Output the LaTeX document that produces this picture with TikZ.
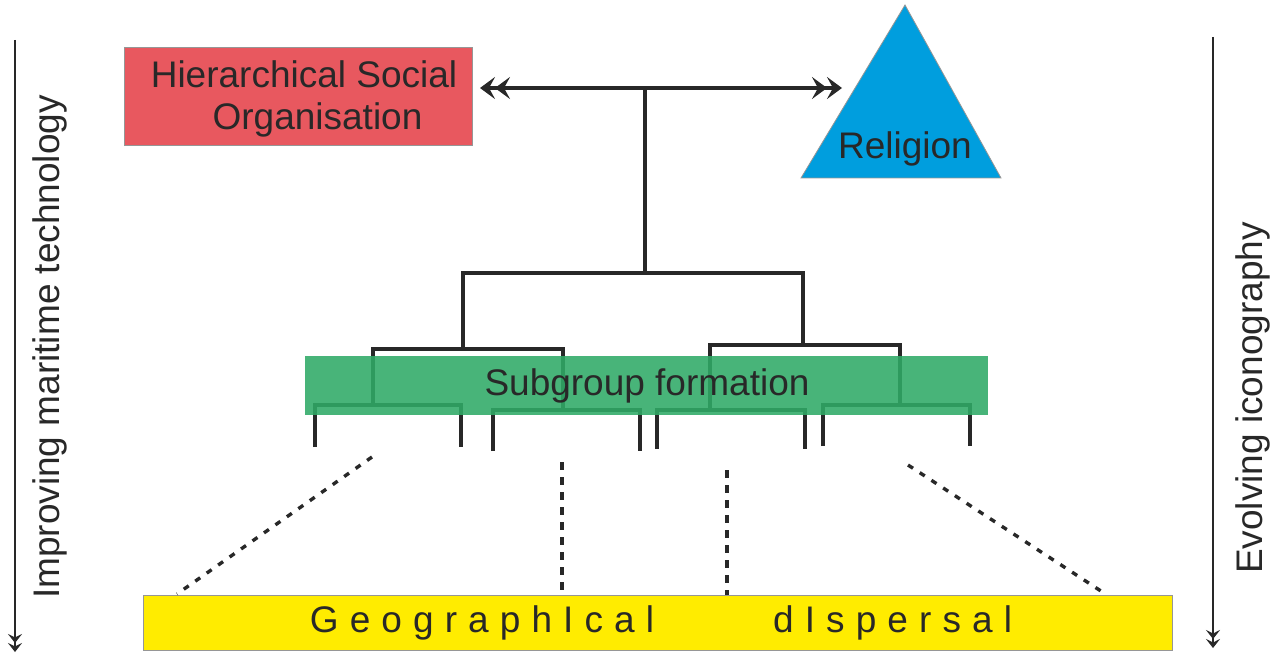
\documentclass[tikz,border=0pt]{standalone}
\usepackage{fontspec}
\setmainfont{Liberation Sans}
\usetikzlibrary{arrows.meta}
\definecolor{redbox}{RGB}{232,88,95}
\definecolor{bluetri}{RGB}{0,158,222}
\definecolor{greenbox}{RGB}{47,170,102}
\definecolor{yellowbar}{RGB}{255,236,0}
\definecolor{ink}{RGB}{40,40,40}
\definecolor{edge}{RGB}{150,150,150}
\tikzset{
  txt/.style={text=ink, font=\fontsize{37}{42}\selectfont, inner sep=0pt},
  treeline/.style={draw=ink, line width=3.4pt},
  dashline/.style={draw=ink, line width=3.2pt, dash pattern=on 8pt off 7pt},
  dotline/.style={draw=ink, line width=3.4pt, dash pattern=on 6pt off 8pt},
  chev/.style={Stealth[length=15pt,width=22pt,inset=6pt]},
  dblboth/.style={{Stealth[length=15pt,width=22pt,inset=6pt]Stealth[length=15pt,width=22pt,inset=6pt]}-{Stealth[length=15pt,width=22pt,inset=6pt]Stealth[length=15pt,width=22pt,inset=6pt]}},
  sidearrow/.style={draw=ink, line width=2.6pt, -{Stealth[length=9pt,width=14pt,inset=3.5pt]Stealth[length=9pt,width=14pt,inset=3.5pt]}},
}
\begin{document}
\begin{tikzpicture}[x=1pt,y=-1pt]
\useasboundingbox (0,0) rectangle (1279,655);

% side arrows
\coordinate (la1) at (15,40);
\coordinate (la2) at (15,652);
\draw[sidearrow] (la1) -- (la2);
\node[txt, rotate=90] (lt) at (50,347) {Improving maritime technology};
\coordinate (ra1) at (1213,37);
\coordinate (ra2) at (1213,648);
\draw[sidearrow] (ra1) -- (ra2);
\node[txt, rotate=90] (rt) at (1253,398) {Evolving iconography};

% red box
\node[draw=edge, line width=0.8pt, fill=redbox, minimum width=348pt, minimum height=98pt, inner sep=0pt] (hso) at (298,96) {};
\node[txt, align=center] (hsot) at (304,99) {Hierarchical Social\\\hspace*{27pt}Organisation};

% triangle
\coordinate (tA) at (905,5);
\coordinate (tB) at (1001,178);
\coordinate (tC) at (801,178);
\fill[bluetri] (tA) -- (tB) -- (tC) -- cycle;
\draw[edge, line width=0.8pt] (tA) -- (tB) -- (tC) -- cycle;
\node[txt] (rel) at (905,149) {Religion};

% double arrow
\coordinate (dl) at (480,88);
\coordinate (dr) at (842,88);
\coordinate (j0) at (645,88);
\draw[treeline, dblboth] (dl) -- (dr);

% tree
\coordinate (j1) at (645,273);
\coordinate (jL) at (463,273);
\coordinate (jR) at (803,273);
\coordinate (jLd) at (463,349);
\coordinate (jRd) at (803,345);
\draw[treeline] (j0) -- (j1);
\draw[treeline] (jLd) -- (jL) -- (jR) -- (jRd);

% upper sub brackets
\coordinate (a1) at (373,405);
\coordinate (a2) at (563,410);
\coordinate (b1) at (710,410);
\coordinate (b2) at (900,405);
\draw[treeline] (a1) -- (373,349) -- (563,349) -- (a2);
\draw[treeline] (b1) -- (710,345) -- (900,345) -- (b2);

% lower brackets
\draw[treeline] (315,447) -- (315,405) -- (461,405) -- (461,447);
\draw[treeline] (493,451) -- (493,410) -- (640,410) -- (640,451);
\draw[treeline] (657,449) -- (657,410) -- (805,410) -- (805,449);
\draw[treeline] (823,446) -- (823,405) -- (970,405) -- (970,446);

% green box (translucent over the lines)
\node[fill=greenbox, fill opacity=0.88, minimum width=683pt, minimum height=59pt, inner sep=0pt] (sg) at (646.5,385.5) {};
\node[txt] (sgt) at (647,386) {Subgroup formation};

% yellow bar
\node[draw=edge, line width=1pt, fill=yellowbar, minimum width=1029pt, minimum height=55pt, inner sep=0pt] (gd) at (657.5,622.5) {};
\node[txt] (gdt) at (661,623) {\addfontfeature{LetterSpace=30}GeographIcal\hspace{119pt}dIspersal};

% dashed links
\coordinate (d1a) at (372,457);
\coordinate (d1b) at (177,594);
\coordinate (d2a) at (562,462);
\coordinate (d2b) at (562,592);
\coordinate (d3a) at (727,470);
\coordinate (d3b) at (727,595);
\coordinate (d4a) at (908,465);
\coordinate (d4b) at (1107,595);
\draw[dotline] (d1a) -- (d1b);
\draw[dashline] (d2a) -- (d2b);
\draw[dashline] (d3a) -- (d3b);
\draw[dotline] (d4a) -- (d4b);
\end{tikzpicture}
\end{document}
